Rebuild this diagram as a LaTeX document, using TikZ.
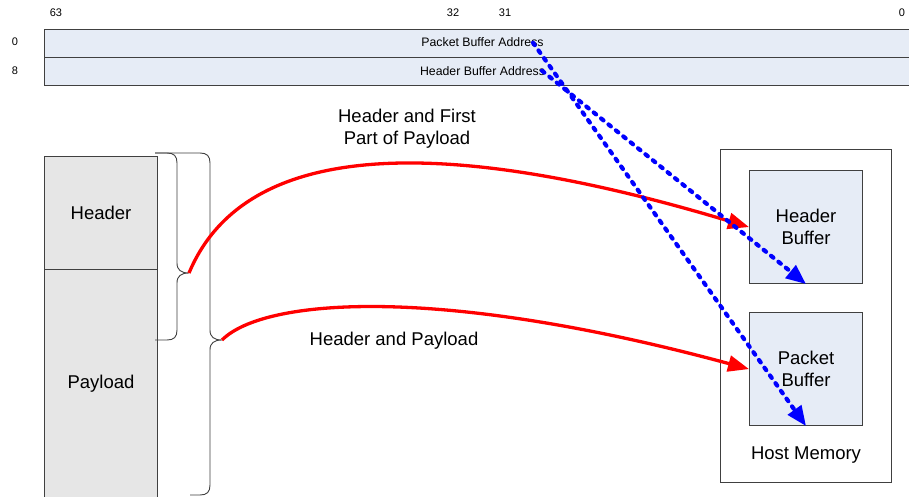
\documentclass[tikz,border=0pt]{standalone}
\usepackage{fontspec}
\setmainfont{Liberation Sans}
\usetikzlibrary{arrows.meta}
\definecolor{barfill}{HTML}{E6ECF6}
\definecolor{blockfill}{HTML}{E6E6E6}
\definecolor{edge}{HTML}{404040}
\begin{document}
\begin{tikzpicture}[x=1pt,y=-1pt,
  box/.style={draw=edge, line width=1.1pt, inner sep=0pt, anchor=north west},
  big/.style={font=\fontsize{18.5}{21.5}\selectfont, align=center, inner sep=0pt},
  small/.style={font=\fontsize{12.3}{14}\selectfont, inner sep=0pt},
  num/.style={font=\fontsize{11}{12}\selectfont, inner sep=0pt},
  brace/.style={draw=edge, line width=0.9pt},
  redarrow/.style={draw=red, line width=3.3pt, -{Triangle[length=21pt,width=16pt]}},
  bluearrow/.style={draw=blue, line width=4.2pt, line cap=round, dash pattern=on 3pt off 6.5pt, -{Triangle[length=20pt,width=16pt]}}
]
\useasboundingbox[fill=white] (0,0) rectangle (909,496);

% address rows
\node[box, fill=barfill, minimum width=866pt, minimum height=28.3pt] (row0) at (44,28.5) {};
\node[box, fill=barfill, minimum width=866pt, minimum height=28.3pt] (row8) at (44,56.8) {};
\node[small] (pbaT) at (482.5,42.5) {Packet Buffer Address};
\node[small] (hbaT) at (482.5,71) {Header Buffer Address};
\node[num] (n63) at (56,13) {63};
\node[num] (n32) at (453,13) {32};
\node[num] (n31) at (505,13) {31};
\node[num] (n0) at (902,13) {0};
\node[num] (r0) at (15,42) {0};
\node[num] (r8) at (15,71) {8};
\coordinate (pbaEnd) at (533,42.7);
\coordinate (hbaEnd) at (542,70.7);

% packet block
\node[box, fill=blockfill, big, minimum width=113pt, minimum height=113pt] (hdr) at (44,156) {Header};
\node[box, fill=blockfill, big, minimum width=113pt, minimum height=229pt] (pay) at (44,269) {Payload};

% braces
\draw[brace] (155,153) -- (167,153) .. controls (174,153) and (177,156) .. (177,163) -- (177,263)
  .. controls (177,270) and (181,273) .. (189,273)
  .. controls (181,273) and (177,276) .. (177,283) -- (177,330)
  .. controls (177,337) and (174,340) .. (167,340) -- (155,340);
\draw[brace] (155,153) -- (200,153) .. controls (207,153) and (210,156) .. (210,163) -- (210,330)
  .. controls (210,337) and (214,340) .. (222,340)
  .. controls (214,340) and (210,343) .. (210,350) -- (210,485)
  .. controls (210,492) and (207,495) .. (200,495) -- (190,495);
\coordinate (tip1) at (189,273);
\coordinate (tip2) at (222,340);

% host memory
\node[box, line width=1pt, minimum width=171pt, minimum height=333pt] (host) at (720,149) {};
\node[box, fill=barfill, big, minimum width=113pt, minimum height=113pt] (hb) at (749,170) {Header\\Buffer};
\node[box, fill=barfill, big, minimum width=113pt, minimum height=113pt] (pb) at (749,312) {Packet\\Buffer};
\node[big] (hostT) at (806,455) {Host Memory};

% labels
\node[big] (lab1) at (407,128.5) {Header and First\\Part of Payload};
\node[big] (lab2) at (394,340.5) {Header and Payload};

% red arrows
\draw[redarrow] (tip1) .. controls (248,132) and (460,140) .. (hb.west);
\draw[redarrow] (tip2) .. controls (264,298) and (439,285) .. (pb.west);

% blue arrows
\draw[bluearrow] (pbaEnd) -- (pb.south);
\draw[bluearrow] (hbaEnd) -- (hb.south);
\end{tikzpicture}
\end{document}
